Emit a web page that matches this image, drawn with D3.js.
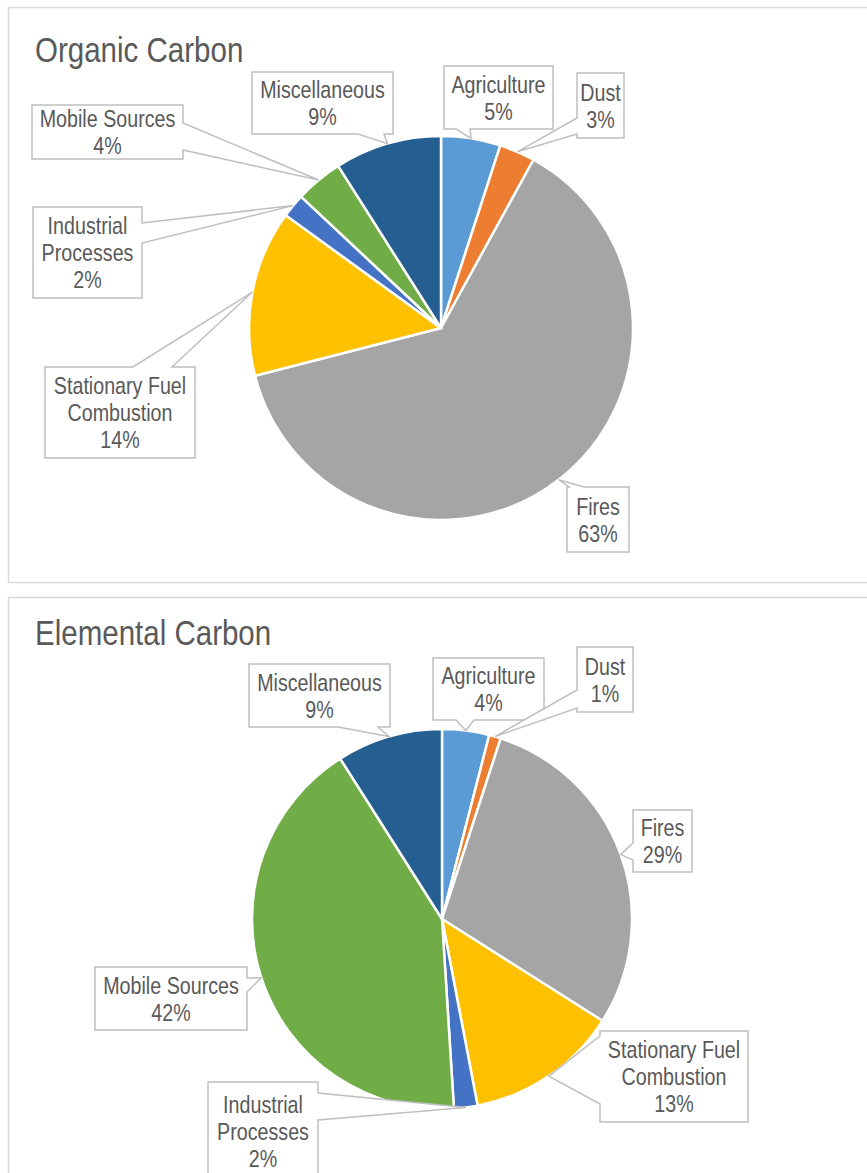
<!DOCTYPE html>
<html>
<head>
<meta charset="utf-8">
<script src="https://cdn.jsdelivr.net/npm/d3@7"></script>
<style>
  html, body { margin: 0; padding: 0; background: #ffffff; }
  svg { display: block; }
  text { font-family: "Liberation Sans Narrow", "Arial Narrow", "Liberation Sans", Arial, sans-serif; fill: #595959; }
</style>
</head>
<body>
<svg id="chart" width="867" height="1173"></svg>
<script>
// ---------- Data ----------
const categories = ["Agriculture", "Dust", "Fires", "Stationary Fuel Combustion",
                    "Industrial Processes", "Mobile Sources", "Miscellaneous"];
const organicValues   = [5, 3, 63, 14, 2, 4, 9];
const elementalValues = [4, 1, 29, 13, 2, 42, 9];
const chartTitles = ["Organic Carbon", "Elemental Carbon"];
const sliceColors = ["#5B9BD5", "#ED7D31", "#A5A5A5", "#FFC000", "#4472C4", "#70AD47", "#255E91"];
// label text lines per category
const labelLines = [["Agriculture"], ["Dust"], ["Fires"], ["Stationary Fuel", "Combustion"],
                    ["Industrial", "Processes"], ["Mobile Sources"], ["Miscellaneous"]];

// ---------- Layout (positions only) ----------
const panels = [
  { top: 7, bottom: 582, cx: 441, cy: 328, r: 192, titleY: 62,
    boxes: [
      { x: 444, y: 66,  w: 109, h: 63, side: "bottom", a: 456, b: 470 },
      { x: 577, y: 73,  w: 47,  h: 65, side: "left",   a: 118, b: 134 },
      { x: 567, y: 487, w: 62,  h: 65, side: "top",    a: 569, b: 584 },
      { x: 45,  y: 367, w: 150, h: 91, side: "top",    a: 133, b: 172 },
      { x: 33,  y: 207, w: 109, h: 91, side: "right",  a: 223, b: 243 },
      { x: 32,  y: 105, w: 151, h: 54, side: "right",  a: 123, b: 150 },
      { x: 252, y: 72,  w: 141, h: 62, side: "bottom", a: 358, b: 384 }
    ]},
  { top: 597, bottom: 1200, cx: 442, cy: 919, r: 190, titleY: 645,
    boxes: [
      { x: 433, y: 658,  w: 111, h: 62, side: "bottom", a: 456, b: 474 },
      { x: 577, y: 647,  w: 56,  h: 65, side: "left",   a: 690, b: 708 },
      { x: 633, y: 810,  w: 59,  h: 62, side: "left",   a: 843, b: 860 },
      { x: 600, y: 1031, w: 148, h: 91, side: "left",   a: 1036, b: 1104 },
      { x: 208, y: 1082, w: 110, h: 98, side: "right",  a: 1093, b: 1120 },
      { x: 95,  y: 967,  w: 152, h: 63, side: "right",  a: 978, b: 992 },
      { x: 249, y: 664,  w: 141, h: 63, side: "bottom", a: 338, b: 378 }
    ]}
];

const svg = d3.select("#chart");
const color = d3.scaleOrdinal().domain(categories).range(sliceColors);
const pie = d3.pie().sort(null).value(d => d.value).startAngle(0).endAngle(2 * Math.PI);
const NARROW = 0.82;

function calloutPath(bx, p) {
  const x0 = bx.x, y0 = bx.y, x1 = bx.x + bx.w, y1 = bx.y + bx.h;
  const pts = [];
  pts.push([x0, y0]);
  if (bx.side === "top") { pts.push([bx.a, y0], p, [bx.b, y0]); }
  pts.push([x1, y0]);
  if (bx.side === "right") { pts.push([x1, bx.a], p, [x1, bx.b]); }
  pts.push([x1, y1]);
  if (bx.side === "bottom") { pts.push([bx.b, y1], p, [bx.a, y1]); }
  pts.push([x0, y1]);
  if (bx.side === "left") { pts.push([x0, bx.b], p, [x0, bx.a]); }
  return "M" + pts.map(q => q[0] + "," + q[1]).join("L") + "Z";
}

function narrowText(x, y, t, size, anchor) {
  return svg.append("text")
    .attr("transform", `translate(${x},${y}) scale(${NARROW},1)`)
    .attr("text-anchor", anchor)
    .attr("font-size", size).text(t);
}

[organicValues, elementalValues].forEach((vals, pi) => {
  const P = panels[pi];
  const data = categories.map((c, i) => ({ name: c, value: vals[i], i: i }));
  const arcs = pie(data);

  // panel frame
  svg.append("rect")
    .attr("x", 8.5).attr("y", P.top + 0.5)
    .attr("width", 880).attr("height", P.bottom - P.top)
    .attr("fill", "#ffffff").attr("stroke", "#d9d9d9").attr("stroke-width", 1.5);

  // title
  narrowText(35, P.titleY, chartTitles[pi], 36, "start");

  const g = svg.append("g").attr("transform", `translate(${P.cx},${P.cy})`);
  const arc = d3.arc().innerRadius(0).outerRadius(P.r);
  g.selectAll("path.slice").data(arcs).enter().append("path")
    .attr("class", "slice")
    .attr("d", arc)
    .attr("fill", d => color(d.data.name))
    .attr("stroke", "#ffffff").attr("stroke-width", 2.5).attr("stroke-linejoin", "round");

  // callouts
  arcs.forEach((d, i) => {
    const bx = P.boxes[i];
    const mid = (d.startAngle + d.endAngle) / 2;
    const anchor = [P.cx + P.r * Math.sin(mid), P.cy - P.r * Math.cos(mid)];
    svg.append("path").attr("d", calloutPath(bx, anchor))
      .attr("fill", "#ffffff").attr("stroke", "#bfbfbf").attr("stroke-width", 1.5);
    const lines = labelLines[i].concat([d.data.value + "%"]);
    const lh = 27;
    const cy = bx.y + bx.h / 2 - (lines.length - 1) * lh / 2;
    lines.forEach((t, k) => {
      narrowText(bx.x + bx.w / 2, cy + k * lh + 8.5, t, 24, "middle");
    });
  });
});
</script>
</body>
</html>
